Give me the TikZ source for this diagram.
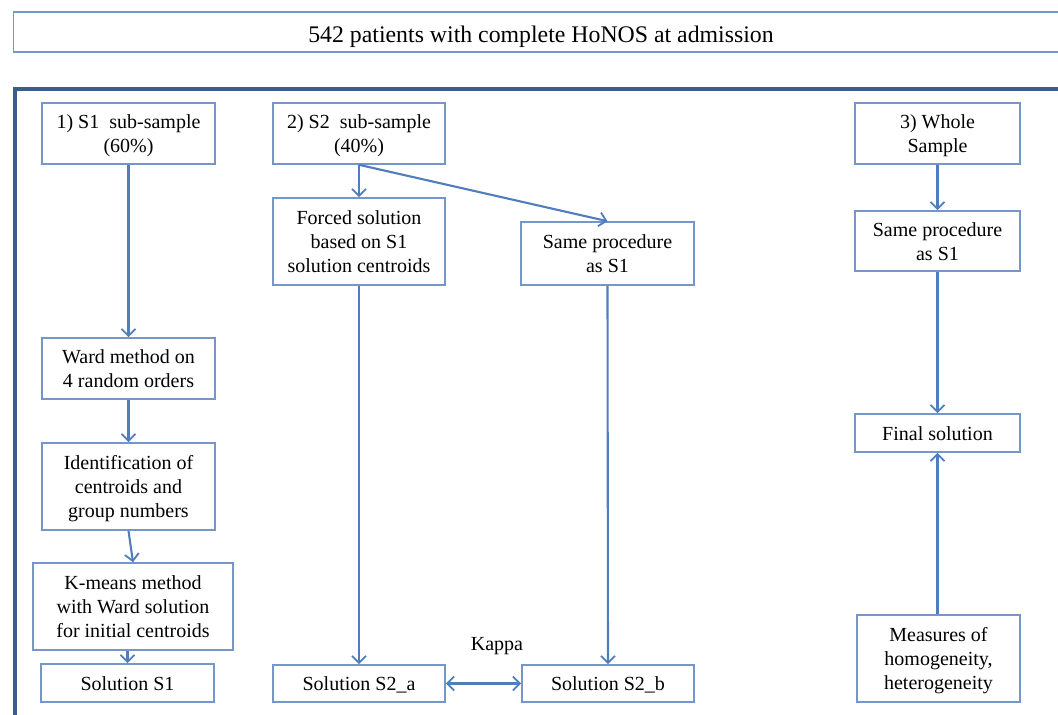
\documentclass[tikz,border=0pt]{standalone}
\usepackage{fontspec}
\setmainfont{Liberation Serif}
\usetikzlibrary{arrows.meta,calc}
\definecolor{boxcol}{RGB}{118,150,202}
\definecolor{arrcol}{RGB}{80,125,188}
\definecolor{framecol}{RGB}{60,93,138}
\newcommand\ps{\rule[-5pt]{0pt}{24pt}}
\tikzset{
  box/.style={draw=boxcol, line width=1.6pt, fill=white, inner sep=0pt, align=center,
    font=\rmfamily\fontsize{20}{24}\selectfont, text=black},
  conn/.style={draw=arrcol, line width=2.1pt, -{Straight Barb[length=7pt,width=14pt,line width=1.8pt]}},
  biconn/.style={draw=arrcol, line width=2.1pt, {Straight Barb[length=7pt,width=14pt,line width=1.8pt]}-{Straight Barb[length=7pt,width=14pt,line width=1.8pt]}},
  lbl/.style={inner sep=0pt, font=\rmfamily\fontsize{20}{24}\selectfont}
}
\begin{document}
\begin{tikzpicture}[x=1pt,y=-1pt]
\useasboundingbox (0,0) rectangle (1058,715);
\clip (0,0) rectangle (1058,715);
\fill[white] (0,0) rectangle (1058,715);
% banner
\node[box, minimum width=1055pt, minimum height=40pt, font=\rmfamily\fontsize{23.8}{28}\selectfont] (banner) at (541,32) {\rule[-4pt]{0pt}{30pt}542 patients with complete HoNOS at admission};
% frame
\draw[framecol, line width=4pt] (14.5,740) -- (14.5,88.5) -- (1080,88.5);
% column 1
\node[box, minimum width=173pt, minimum height=61pt] (s1) at (128.5,133.5) {\ps 1) S1\ \ sub-sample\\\ps(60\%)};
\node[box, minimum width=173pt, minimum height=61pt] (ward) at (128.5,368.5) {\ps Ward method on\\\ps 4 random orders};
\node[box, minimum width=173pt, minimum height=87pt] (ident) at (128.5,486.5) {\ps Identification of\\\ps centroids and\\\ps group numbers};
\node[box, minimum width=200pt, minimum height=87pt] (kmeans) at (133,606.5) {\ps K-means method\\\ps with Ward solution\\\ps for initial centroids};
\node[box, minimum width=173pt, minimum height=38pt] (sol1) at (127.5,683) {\ps Solution S1};
% column 2
\node[box, minimum width=172pt, minimum height=61pt] (s2) at (359,133.5) {\ps 2) S2\ \ sub-sample\\\ps(40\%)};
\node[box, minimum width=172pt, minimum height=87pt] (forced) at (359,241.5) {\ps Forced solution\\\ps based on S1\\\ps solution centroids};
\node[box, minimum width=173pt, minimum height=63pt] (same2) at (607.5,253.5) {\ps Same procedure\\\ps as S1};
\node[box, minimum width=172pt, minimum height=37pt] (s2a) at (359,683.5) {\ps Solution S2\_a};
\node[box, minimum width=172pt, minimum height=37pt] (s2b) at (608,683.5) {\ps Solution S2\_b};
\node[lbl] (kappa) at (497,646) {Kappa};
% column 3
\node[box, minimum width=165pt, minimum height=61pt] (whole) at (937.5,133.5) {\ps 3) Whole\\\ps Sample};
\node[box, minimum width=165pt, minimum height=60pt] (same3) at (937.5,241) {\ps Same procedure\\\ps as S1};
\node[box, minimum width=165pt, minimum height=38pt] (final) at (937.5,433) {\ps Final solution};
\node[box, minimum width=163pt, minimum height=87pt] (meas) at (938.5,658.5) {\ps Measures of\\\ps homogeneity,\\\ps heterogeneity};
% connectors
\draw[conn] (s1.south) -- (ward.north);
\draw[conn] (ward.south) -- (ident.north);
\draw[conn] (ident.south) -- (kmeans.north);
\draw[conn] (kmeans.south -| sol1.north) -- (sol1.north);
\draw[conn] (s2.south) -- (forced.north);
\draw[conn] (s2.south) -- (same2.north);
\draw[conn] (forced.south) -- (s2a.north);
\draw[conn] (same2.south) -- (s2b.north);
\draw[biconn] (s2a.east) -- (s2b.west);
\draw[conn] (whole.south) -- (same3.north);
\draw[conn] (same3.south) -- (final.north);
\draw[conn] (meas.north -| final.south) -- (final.south);
\end{tikzpicture}
\end{document}
